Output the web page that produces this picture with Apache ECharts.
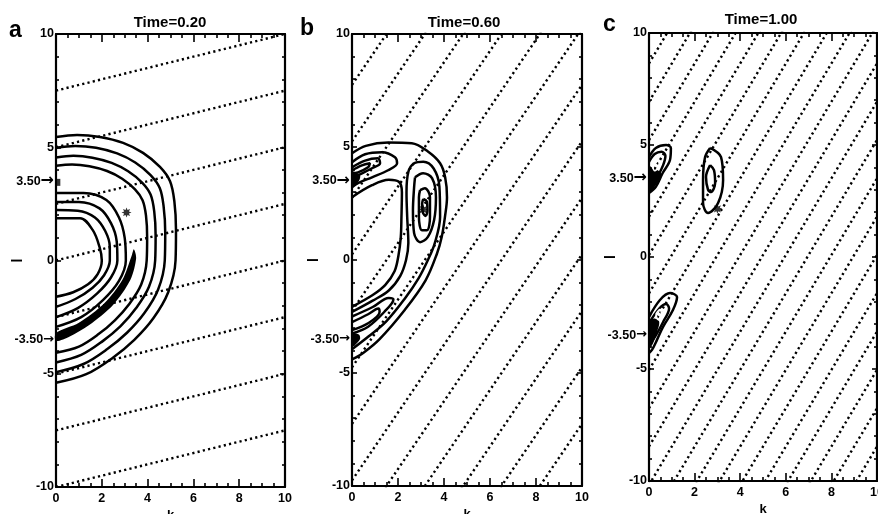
<!DOCTYPE html>
<html>
<head>
<meta charset="utf-8">
<script src="https://cdn.jsdelivr.net/npm/echarts@6/dist/echarts.min.js"></script>
<style>
html,body{margin:0;padding:0;background:#fff;}
#charts{width:878px;height:514px;}
</style>
</head>
<body>
<div id="charts"></div>
<script>
// 三个时刻的波包等值线图
var panelTitles = ['Time=0.20', 'Time=0.60', 'Time=1.00'];
var panelLetters = ['a', 'b', 'c'];
var lLabelValues = [-10, -5, -3.5, 0, 3.5, 5, 10];
var arrowValues = [3.5, -3.5];

// dotted lines: slope and l-intercept at k=0 for each panel
var dotSlope = [0.25, 1.5, 1.71];
var dotIntercepts = [
  [7.5, 5, 2.5, 0, -2.5, -5, -7.5, -10],
  [7.75, 5.25, 2.75, 0.25, -2.25, -4.75, -7.25, -9.75, -12.25, -14.75, -17.25, -19.75, -22.25],
  [8.64, 6.93, 5.22, 3.51, 1.8, 0.09, -1.62, -3.33, -5.04, -6.75, -8.46, -10.17, -11.88, -13.59, -15.3, -17.01, -18.72, -20.43, -22.14, -23.85, -25.56]
];

var markerPoints = [[3.08, 2.12], [3.1, 2.23], [3.0, 2.15]];

// panel a
var aOuter1 = [[0,5.45],[0.92,5.54],[1.92,5.45],[2.93,5.19],[3.8,4.75],[4.54,4.13],[4.98,3.5],[5.17,2.6],[5.24,1.35],[5.22,0],[4.9,-1.4],[4.25,-2.55],[3.42,-3.5],[2.47,-4.3],[1.32,-5.02],[0,-5.4]];
var aOuter2 = [[0,4.98],[0.84,5.06],[1.75,4.98],[2.67,4.73],[3.46,4.33],[4.13,3.77],[4.53,3.2],[4.7,2.38],[4.77,1.23],[4.75,0],[4.46,-1.28],[3.86,-2.32],[3.1,-3.19],[2.24,-3.91],[1.2,-4.57],[0,-4.93]];
var aOuter3 = [[0,4.55],[0.76,4.62],[1.59,4.54],[2.43,4.31],[3.15,3.94],[3.77,3.43],[4.13,2.91],[4.29,2.16],[4.35,1.12],[4.33,0],[4.06,-1.16],[3.5,-2.1],[2.82,-2.9],[2.04,-3.56],[1.1,-4.17],[0,-4.5]];
var aOuter4 = [[0,4.18],[0.7,4.24],[1.46,4.16],[2.23,3.95],[2.89,3.61],[3.45,3.14],[3.78,2.66],[3.93,1.98],[3.98,1.03],[3.96,0],[3.72,-1.06],[3.2,-1.92],[2.57,-2.64],[1.86,-3.25],[1.0,-3.8],[0,-4.07]];
var aInner1 = [[0,2.98],[1.2,2.98],[2.2,2.67],[2.75,1.9],[3.0,1.0],[3.05,0],[2.75,-0.9],[2.05,-1.75],[1.1,-2.5],[0,-2.93]];
var aInner2 = [[0,2.58],[1.0,2.58],[1.9,2.3],[2.4,1.65],[2.65,0.85],[2.68,0],[2.4,-0.75],[1.8,-1.45],[0.95,-2.1],[0,-2.5]];
var aInner3 = [[0,2.23],[0.95,2.2],[1.7,1.9],[2.15,1.3],[2.35,0.6],[2.35,0],[2.1,-0.65],[1.6,-1.2],[0.85,-1.7],[0,-2.05]];
var aInner4 = [[0,1.87],[1.05,1.87],[1.6,1.35],[1.9,0.6],[2.0,0],[1.82,-0.6],[1.4,-1.05],[0.75,-1.4],[0,-1.6]];
var aCrescent = [[3.4,0.5],[3.5,0.1],[3.25,-0.85],[2.5,-1.95],[1.45,-2.85],[0.6,-3.35],[0,-3.55],[0,-3.2],[1.0,-2.75],[2.1,-1.9],[2.9,-0.85],[3.3,0.2]];
var aAxisBlip = [[0.08, 3.45]];

// panel b
var bOuter = [[0,4.72],[0.6,5.05],[1.57,5.2],[2.6,5.17],[3.3,4.8],[3.83,4.28],[4.05,3.66],[4.13,2.78],[4.04,1.9],[3.9,1.02],[3.7,0.3],[3.2,-0.9],[2.3,-2.2],[1.2,-3.5],[0.5,-4.1],[0,-4.4]];
var bBand = [[0,-2.3],[0.9,-1.8],[1.6,-1.35],[2.1,-0.7],[2.35,0],[2.45,0.75],[2.4,1.9],[2.37,3.0],[2.45,3.9],[2.7,4.28],[3.1,4.35],[3.55,4.05],[3.8,3.25],[3.83,1.9],[3.6,0.75],[3.3,0],[2.9,-0.8],[2.3,-1.7],[1.5,-2.7],[0.7,-3.4],[0,-3.95]];
var bInnerBand = [[0,2.78],[0.87,3.31],[1.6,3.55],[2.05,3.45],[2.17,3.0],[2.15,1.9],[2.12,1.0],[2.02,0.2],[1.85,-0.5],[1.45,-1.1],[0.9,-1.55],[0,-2.07]];
var bUpper1 = [[0,4.33],[0.57,4.68],[1.3,4.77],[1.87,4.55],[1.96,4.28],[1.57,3.97],[0.87,3.66],[0.26,3.4],[0,3.22]];
var bUpper2 = [[0,4.1],[0.57,4.4],[1.13,4.5],[1.22,4.28],[0.87,4.06],[0.26,3.75],[0,3.62]];
var bUpper3 = [[0,3.97],[0.43,4.19],[0.78,4.28],[0.7,4.1],[0.26,3.88],[0,3.84]];
var bRight1 = [[2.74,3.66],[3.09,3.84],[3.48,3.62],[3.65,2.78],[3.57,1.77],[3.3,1.02],[2.96,0.79],[2.7,1.19],[2.65,2.2],[2.7,3.22],[2.74,3.66]];
var bRight2 = [[2.96,3.09],[3.17,3.18],[3.39,2.78],[3.39,1.9],[3.26,1.32],[3.04,1.32],[2.91,1.9],[2.91,2.78],[2.96,3.09]];
var bRight3 = [[3.1,2.7],[3.25,2.6],[3.28,2.2],[3.2,1.95],[3.08,2.1],[3.05,2.5],[3.1,2.7]];
var bLower1 = [[0,-2.5],[0.9,-2.08],[1.6,-1.68],[1.8,-1.75],[1.4,-2.3],[0.7,-2.95],[0,-3.25]];
var bLower2 = [[0,-2.75],[0.7,-2.4],[1.15,-2.15],[1.2,-2.3],[0.7,-2.8],[0,-3.1]];
var bBlobs = [[[0,3.25],[0.3,3.5],[0.35,3.75],[0.1,3.9],[0,3.9]], [[0,-3.25],[0.3,-3.3],[0.35,-3.5],[0.1,-3.8],[0,-3.8]]];

// panel c
var cUpper1 = [[0,4.46],[0.3,4.87],[0.75,5.0],[0.96,4.87],[0.92,4.33],[0.6,3.75],[0.3,3.13],[0,2.86]];
var cUpper2 = [[0,4.25],[0.25,4.6],[0.55,4.7],[0.72,4.52],[0.62,4.1],[0.38,3.6],[0.12,3.15],[0,3.0]];
var cUpper3 = [[0.15,4.05],[0.3,4.3],[0.45,4.28],[0.42,4.05],[0.25,3.85],[0.15,4.05]];
var cRight1 = [[2.68,4.87],[2.46,4.46],[2.37,3.44],[2.37,2.41],[2.59,1.96],[3.03,2.41],[3.25,3.44],[3.16,4.46],[2.68,4.87]];
var cRight2 = [[2.68,4.1],[2.5,3.57],[2.59,3.0],[2.72,2.9],[2.9,3.3],[2.85,3.88],[2.68,4.1]];
var cLower1 = [[0,-2.68],[0.48,-1.92],[0.92,-1.61],[1.23,-1.79],[1.05,-2.37],[0.61,-3.13],[0.35,-3.7],[0.13,-4.15],[0,-4.29]];
var cLower2 = [[0,-2.95],[0.45,-2.3],[0.75,-2.1],[0.88,-2.3],[0.62,-2.9],[0.3,-3.5],[0,-3.95]];
var cLower3 = [[0.3,-2.55],[0.48,-2.35],[0.55,-2.55],[0.4,-2.8],[0.3,-2.55]];
var cBlobs = [[[0,2.85],[0.3,3.2],[0.55,3.65],[0.42,3.85],[0.15,3.95],[0,4.1]], [[0,-2.85],[0.25,-2.75],[0.45,-2.9],[0.35,-3.35],[0.18,-3.85],[0,-4.1]]];

var contours = [
  [aOuter1, aOuter2, aOuter3, aOuter4, aInner1, aInner2, aInner3, aInner4],
  [bOuter, bBand, bInnerBand, bUpper1, bUpper2, bUpper3, bRight1, bRight2, bRight3, bLower1, bLower2],
  [cUpper1, cUpper2, cRight1, cRight2, cLower1, cLower2]
];
var blobs = [[aCrescent], bBlobs, cBlobs];
// small white loops drawn on top of the filled blobs
var whiteLoops = [[], [], [cUpper3, cLower3]];

var font = 'Liberation Sans, Arial, sans-serif';
var grids = [
  {left: 56, top: 34, width: 229, height: 453},
  {left: 352, top: 34, width: 230, height: 452},
  {left: 649, top: 33, width: 228, height: 448}
];
var titleX = [170, 464, 761];
var titleY = [15, 15, 12];
var letterPos = [[9, 19], [300, 17], [603, 13]];

var myChart = echarts.init(document.getElementById('charts'));

var xAxes = [], yAxes = [], series = [], titles = [];
var blackLine = {color: '#000', width: 2.2};
var tickStyle = {color: '#000', width: 1.6};
var labelText = {color: '#000', fontWeight: 'bold', fontSize: 12.5, fontFamily: font};

grids.forEach(function (g, i) {
  g.outerBoundsMode = 'none';
  g.containLabel = false;
  ['bottom', 'top'].forEach(function (pos) {
    xAxes.push({
      gridIndex: i, type: 'value', position: pos, min: 0, max: 10, interval: 2,
      axisLine: {onZero: false, lineStyle: blackLine},
      axisTick: {inside: true, length: 8, lineStyle: tickStyle},
      minorTick: {show: true, splitNumber: 4, length: 4, lineStyle: tickStyle},
      splitLine: {show: false},
      axisLabel: Object.assign({show: pos === 'bottom', margin: 5}, labelText),
      name: pos === 'bottom' ? 'k' : '', nameLocation: 'middle', nameGap: 22, nameMoveOverlap: false,
      nameTextStyle: {color: '#000', fontWeight: 'bold', fontSize: 13, fontFamily: font}
    });
  });
  ['left', 'right'].forEach(function (pos) {
    yAxes.push({
      gridIndex: i, type: 'value', position: pos, min: -10, max: 10, interval: 5,
      axisLine: {onZero: false, lineStyle: blackLine},
      axisTick: {inside: true, length: 5, lineStyle: tickStyle},
      minorTick: {show: true, splitNumber: 5, length: 3, lineStyle: tickStyle},
      splitLine: {show: false},
      axisLabel: Object.assign({
        show: pos === 'left', margin: 2,
        customValues: lLabelValues,
        formatter: function (v) {
          if (v === 3.5) return '{t|3.50}{a|\u2192}';
          if (v === -3.5) return '{t|-3.50}{b|\u2192}';
          return String(v);
        },
        rich: {
          t: {color: '#000', fontWeight: 'bold', fontSize: 12.5, fontFamily: font},
          a: {color: '#000', fontWeight: 'bold', fontSize: 16, fontFamily: 'DejaVu Sans', padding: [0, 0, 1, 0]},
          b: {color: '#000', fontWeight: 'bold', fontSize: 13, fontFamily: 'DejaVu Sans', padding: [0, 0, 1, 0]}
        }
      }, labelText),
      name: pos === 'left' ? 'l' : '', nameLocation: 'middle', nameGap: 31, nameRotate: 90, nameMoveOverlap: false,
      nameTextStyle: {color: '#000', fontWeight: 'bold', fontSize: 14, fontFamily: font}
    });
  });

  titles.push({text: panelTitles[i], left: titleX[i], top: titleY[i], textAlign: 'center', padding: 0,
    textStyle: {color: '#000', fontWeight: 'bold', fontSize: 15, fontFamily: font}});
  titles.push({text: panelLetters[i], left: letterPos[i][0], top: letterPos[i][1], padding: 0,
    textStyle: {color: '#000', fontWeight: 'bold', fontSize: 23, fontFamily: font}});

  var xi = i * 2, yi = i * 2;
  // 点线
  dotIntercepts[i].forEach(function (c) {
    series.push({
      type: 'line', xAxisIndex: xi, yAxisIndex: yi, clip: true, silent: true, symbol: 'none',
      data: [[0, c], [10, c + 10 * dotSlope[i]]],
      lineStyle: {color: '#000', width: 2.4, type: [2.2, 3.2]}
    });
  });
  // 等值线
  contours[i].forEach(function (pts) {
    series.push({
      type: 'line', xAxisIndex: xi, yAxisIndex: yi, clip: true, silent: true, symbol: 'none',
      smooth: 0.35, data: pts, z: 3,
      lineStyle: {color: '#000', width: 2.5}
    });
  });
  blobs[i].forEach(function (poly) {
    series.push({
      type: 'custom', xAxisIndex: xi, yAxisIndex: yi, silent: true, z: 4,
      data: [[0, 0]],
      renderItem: function (params, api) {
        return {
          type: 'polygon',
          shape: {points: poly.map(function (p) { return api.coord(p); }), smooth: 0.3},
          style: {fill: '#000'}
        };
      }
    });
  });
  whiteLoops[i].forEach(function (pts) {
    series.push({
      type: 'line', xAxisIndex: xi, yAxisIndex: yi, clip: true, silent: true, symbol: 'none',
      smooth: 0.35, data: pts, z: 6,
      lineStyle: {color: '#fff', width: 1.6}
    });
  });
  series.push({
    type: 'scatter', xAxisIndex: xi, yAxisIndex: yi, silent: true, z: 5,
    data: [markerPoints[i]], symbolSize: 10,
    symbol: 'path://M5,0 L2.4,1 L3.54,3.54 L1,2.4 L0,5 L-1,2.4 L-3.54,3.54 L-2.4,1 L-5,0 L-2.4,-1 L-3.54,-3.54 L-1,-2.4 L0,-5 L1,-2.4 L3.54,-3.54 L2.4,-1 Z',
    itemStyle: {color: '#000'}
  });
});

series.push({
  type: 'scatter', xAxisIndex: 0, yAxisIndex: 0, silent: true, z: 5, clip: false,
  data: aAxisBlip, symbol: 'rect', symbolSize: [5, 7], itemStyle: {color: '#000'}
});

myChart.setOption({
  animation: false,
  backgroundColor: '#fff',
  title: titles,
  grid: grids,
  xAxis: xAxes,
  yAxis: yAxes,
  series: series
});
window.addEventListener('resize', function () {
  myChart.resize();
});
</script>
</body>
</html>
